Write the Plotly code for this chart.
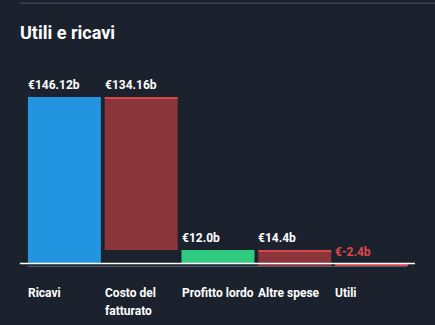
import plotly.graph_objects as go

# Income waterfall data (billions of euro)
categories = ["Ricavi", "Costo del<br>fatturato", "Profitto lordo", "Altre spese", "Utili"]
values = [146.12, 134.16, 12.0, 14.4, -2.4]
bases = [0.0, 11.96, 0.0, -2.4, 0.0]
value_labels = ["€146.12b", "€134.16b", "€12.0b", "€14.4b", "€-2.4b"]
kinds = ["revenue", "cost", "profit", "cost", "loss"]

BG = "#1b222d"
FILL = {"revenue": "#2394df", "cost": "#8a353a", "profit": "#2fcb80", "loss": "#d8403f"}
EDGE = "#d9474a"
FONT = "Roboto"

fig = go.Figure()

fig.add_trace(go.Bar(
    x=list(range(len(categories))),
    y=values,
    base=bases,
    marker=dict(color=[FILL[k] for k in kinds], line=dict(width=0)),
    width=0.95,
    hoverinfo="skip",
))

# bright edge along the top of each cost bar
edge_h = 1.6
edge_x, edge_y, edge_b = [], [], []
for i, (v, b, k) in enumerate(zip(values, bases, kinds)):
    if k in ("cost", "loss"):
        top = max(b, b + v)
        edge_x.append(i)
        edge_y.append(edge_h)
        edge_b.append(top - edge_h)
fig.add_trace(go.Bar(
    x=edge_x, y=edge_y, base=edge_b, width=0.95,
    marker=dict(color=EDGE, line=dict(width=0)), hoverinfo="skip",
))

annotations = []
for i, (v, b, lab, k) in enumerate(zip(values, bases, value_labels, kinds)):
    top = max(b, b + v)
    annotations.append(dict(
        x=i - 0.475, y=top, xref="x", yref="y", text=f"<b>{lab}</b>",
        showarrow=False, xanchor="left", yanchor="middle", yshift=12, xshift=-2,
        font=dict(family=FONT, size=12, color="#e0464a" if k == "loss" else "#ffffff"),
    ))
    for j, line in enumerate(categories[i].split("<br>")):
        annotations.append(dict(
            x=i - 0.475, y=0, xref="x", yref="y", text=f"<b>{line}</b>",
            showarrow=False, xanchor="left", yanchor="middle",
            yshift=-29 - 18 * j, xshift=-2,
            font=dict(family=FONT, size=12, color="#ffffff"),
        ))

shapes = [
    # baseline at zero
    dict(type="line", xref="paper", yref="y", x0=-0.016, x1=1.013, y0=0, y1=0,
         line=dict(color="#ffffff", width=1.5)),
    # lower rule
    dict(type="line", xref="paper", yref="y", x0=0.005, x1=0.99, y0=-2.5, y1=-2.5,
         line=dict(color="#5a6270", width=1)),
    # header divider
    dict(type="line", xref="paper", yref="paper", x0=-0.016, x1=1.1, y0=1.445, y1=1.445,
         line=dict(color="#3b4350", width=1.5)),
]

fig.update_layout(
    width=435, height=325,
    paper_bgcolor=BG, plot_bgcolor=BG,
    margin=dict(l=26, r=25, t=87, b=50),
    barmode="overlay", bargap=0.05, showlegend=False,
    title=dict(text="<b>Utili e ricavi</b>", x=20 / 435, xanchor="left",
               y=1 - 33 / 325, yanchor="middle",
               font=dict(family=FONT, size=18, color="#ffffff")),
    xaxis=dict(range=[-0.5, len(categories) - 0.5], showticklabels=False,
               showgrid=False, zeroline=False, showline=False, fixedrange=True),
    yaxis=dict(range=[-10, 155], showticklabels=False, showgrid=False,
               zeroline=False, showline=False, fixedrange=True),
    annotations=annotations,
    shapes=shapes,
)

fig.write_html("out.html", config={"displayModeBar": False})
